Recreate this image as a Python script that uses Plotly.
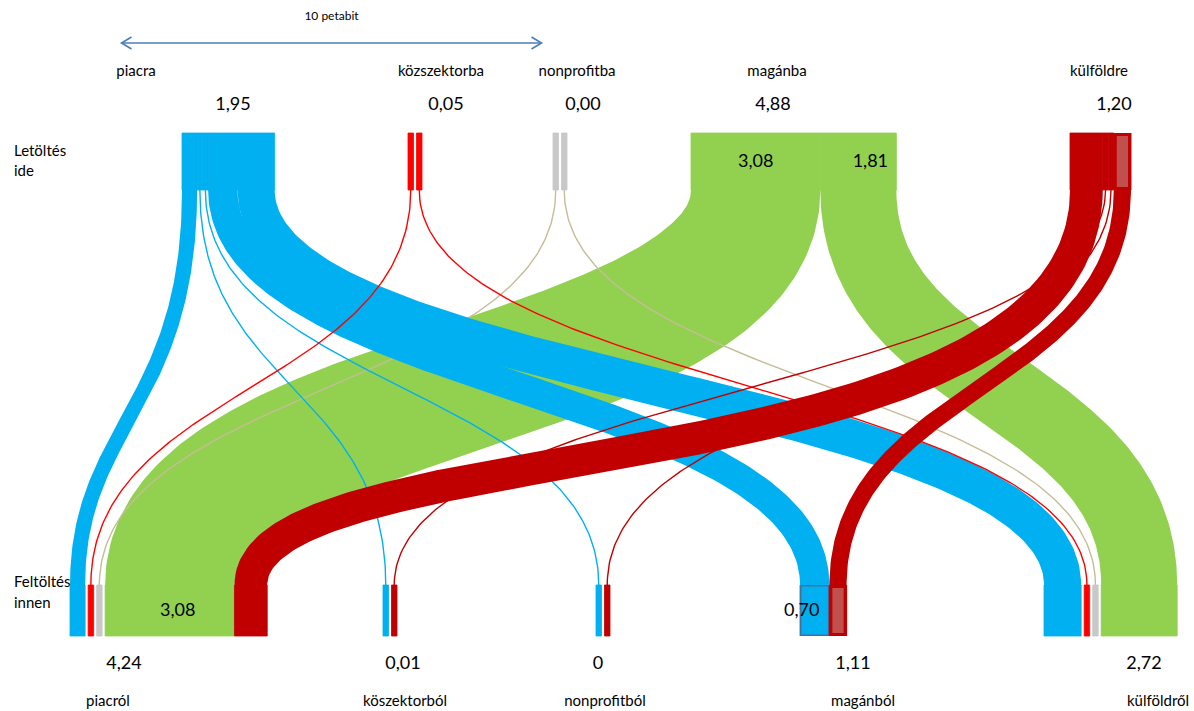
import numpy as np
import plotly.graph_objects as go

# ---------------------------------------------------------------- data
TOP_NODES = ["piacra", "közszektorba", "nonprofitba", "magánba", "külföldre"]
TOP_TOTALS = ["1,95", "0,05", "0,00", "4,88", "1,20"]
BOTTOM_NODES = ["piacról", "köszektorból", "nonprofitból", "magánból", "külföldről"]
BOTTOM_TOTALS = ["4,24", "0,01", "0", "1,11", "2,72"]

# traffic in petabit: downloaded into (top) <- uploaded from (bottom)
FLOW_TO = ["piacra", "piacra", "piacra", "piacra", "piacra",
           "közszektorba", "közszektorba",
           "nonprofitba", "nonprofitba",
           "magánba", "magánba",
           "külföldre", "külföldre", "külföldre", "külföldre"]
FLOW_FROM = ["piacról", "köszektorból", "nonprofitból", "magánból", "külföldről",
             "piacról", "külföldről",
             "piacról", "külföldről",
             "piacról", "külföldről",
             "piacról", "köszektorból", "nonprofitból", "magánból"]
FLOW_VALUE = [0.36, 0.005, 0.002, 0.70, 0.885,
              0.02, 0.03,
              0.001, 0.001,
              3.08, 1.81,
              0.78, 0.005, 0.002, 0.41]

SCALE_BAR = 10  # petabit

# ---------------------------------------------------------------- layout / style
PX_PER_PB = 42.0
W, H = 1194, 711
TOP_LEFT = [182, 408, 553, 691, 1070]
BOTTOM_LEFT = [70, 383, 596, 800, 1044]
TOP_STUB = (133, 190)
BOTTOM_STUB = (585, 636)
TINY = 0.1
STUB_MIN = 5.5
GAP = 3
FONT = "Lato"

LINK_COLOR = {"piacra": "#00B0F0", "közszektorba": "#FF0000", "nonprofitba": "#C4BD97",
              "magánba": "#92D050", "külföldre": "#C00000"}
STUB_COLOR = {"piacra": "#00B0F0", "közszektorba": "#FF0000", "nonprofitba": "#C8C8C8",
              "magánba": "#92D050", "külföldre": "#C00000"}
DRAW_ORDER = ["magánba", "nonprofitba", "piacra", "közszektorba", "külföldre"]

# control-point depth (top, bottom) as a share of the vertical span
BEND = {("külföldre", "piacról"): (0.78, 0.40),
        ("piacra", "piacról"): (0.55, 0.40)}
# outlined stubs: (flow, end) -> (fill, border colour, border width)
OUTLINED = {
    (("piacra", "magánból"), "bottom"): ("#00B0F0", "#41719C", 1.5),
    (("külföldre", "magánból"), "bottom"): ("#C0504D", "#C00000", 3),
    (("külföldre", "magánból"), "top"): ("#C0504D", "#C00000", 3),
}
# stub labels: (flow, end) -> horizontal shift of the label from stub centre
STUB_LABELS = {
    (("magánba", "piacról"), "top"): 0,
    (("magánba", "külföldről"), "top"): 12,
    (("magánba", "piacról"), "bottom"): 8,
    (("piacra", "magánból"), "bottom"): -13,
}

flows = list(zip(FLOW_TO, FLOW_FROM, FLOW_VALUE))


def width_of(v):
    return v * PX_PER_PB


def place(node_names, lefts, own_idx, other_idx, other_nodes):
    """Lay the stubs of every node side by side.  Tiny flows get a minimum
    width; a gap separates them from stubs of another colour, and from each
    other when the whole node is made of tiny flows."""
    slots = {}
    for n, left in zip(node_names, lefts):
        mine = [f for f in flows if f[own_idx] == n]
        mine.sort(key=lambda f: other_nodes.index(f[other_idx]))
        all_tiny = all(f[2] < TINY for f in mine)
        x = left
        prev = None
        for f in mine:
            tiny = f[2] < TINY
            if prev is not None:
                either_tiny = tiny or prev[2] < TINY
                other_colour = STUB_COLOR[f[0]] != STUB_COLOR[prev[0]]
                if (either_tiny and other_colour) or all_tiny:
                    x += GAP
            w = STUB_MIN if tiny else width_of(f[2])
            slots[(f[0], f[1])] = (x, x + w)
            x += w
            prev = f
    return slots


top_slots = place(TOP_NODES, TOP_LEFT, 0, 1, BOTTOM_NODES)
bottom_slots = place(BOTTOM_NODES, BOTTOM_LEFT, 1, 0, TOP_NODES)


def curve(key, n=160):
    xt = sum(top_slots[key]) / 2
    xb = sum(bottom_slots[key]) / 2
    yt, yb = TOP_STUB[1], BOTTOM_STUB[0]
    k1, k2 = BEND.get(key, (0.5, 0.5))
    span = yb - yt
    p = np.array([[xt, yt], [xt, yt + k1 * span], [xb, yb - k2 * span], [xb, yb]], float)
    t = np.linspace(0, 1, n)[:, None]
    pts = ((1 - t) ** 3) * p[0] + 3 * ((1 - t) ** 2) * t * p[1] + 3 * (1 - t) * t ** 2 * p[2] + t ** 3 * p[3]
    d = 3 * ((1 - t) ** 2) * (p[1] - p[0]) + 6 * (1 - t) * t * (p[2] - p[1]) + 3 * t ** 2 * (p[3] - p[2])
    return pts, d


fig = go.Figure()

# side captions sit behind the bars
fig.add_trace(go.Scatter(
    x=[14, 14, 14, 14], y=[152, 172, 583, 604],
    text=["Letöltés", "ide", "Feltöltés", "innen"],
    mode="text", textposition="middle right",
    textfont=dict(family=FONT, size=15, color="#000000"), hoverinfo="skip"))

# links
for src in DRAW_ORDER:
    for f in flows:
        if f[0] != src:
            continue
        key = (f[0], f[1])
        pts, d = curve(key)
        col = LINK_COLOR[f[0]]
        if f[2] < TINY:
            fig.add_trace(go.Scatter(x=pts[:, 0], y=pts[:, 1], mode="lines",
                                     line=dict(color=col, width=1.4), hoverinfo="skip"))
            continue
        w = width_of(f[2])
        nrm = np.stack([-d[:, 1], d[:, 0]], axis=1)
        nrm /= np.linalg.norm(nrm, axis=1)[:, None]
        a = pts + nrm * w / 2
        b = pts - nrm * w / 2
        poly = np.vstack([a, b[::-1], a[:1]])
        fig.add_trace(go.Scatter(x=poly[:, 0], y=poly[:, 1], mode="lines", fill="toself",
                                 fillcolor=col, line=dict(width=0, color=col), hoverinfo="skip"))


def rect(x0, x1, y0, y1, fill, border=None, bw=0):
    fig.add_trace(go.Scatter(x=[x0, x1, x1, x0, x0], y=[y0, y0, y1, y1, y0],
                             mode="lines", fill="toself", fillcolor=fill,
                             line=dict(width=bw, color=border or fill), hoverinfo="skip"))


# stubs at both ends (a hairline of the same colour hides seams between neighbours)
for f in flows:
    key = (f[0], f[1])
    for end, slots, ys in (("top", top_slots, TOP_STUB), ("bottom", bottom_slots, BOTTOM_STUB)):
        x0, x1 = slots[key]
        style = OUTLINED.get((key, end))
        if style:
            fill, border, bw = style
            inset = bw / 2
            rect(x0 - 0.5, x1 + 0.5, ys[0], ys[1], STUB_COLOR[f[0]])
            rect(x0 + inset, x1 - inset, ys[0] + inset, ys[1] - inset, fill, border, bw)
        else:
            rect(x0, x1, ys[0], ys[1], STUB_COLOR[f[0]], bw=0.8)

# stub value labels
lookup = {(a, b): v for a, b, v in flows}
lx, ly, lt = [], [], []
for (key, end), shift in STUB_LABELS.items():
    slots = top_slots if end == "top" else bottom_slots
    ys = TOP_STUB if end == "top" else BOTTOM_STUB
    lx.append(sum(slots[key]) / 2 + shift)
    ly.append((ys[0] + ys[1]) / 2 + 1)
    lt.append(f"{lookup[key]:.2f}".replace(".", ","))
fig.add_trace(go.Scatter(x=lx, y=ly, text=lt, mode="text",
                         textfont=dict(family=FONT, size=18, color="#000000"), hoverinfo="skip"))

# node captions and totals
TOP_LABEL_X = [136, 441, 577, 777, 1099]
TOP_VALUE_X = [233, 446, 583, 773, 1114]
BOTTOM_VALUE_X = [124, 403, 598, 853, 1144]
BOTTOM_LABEL_X = [108, 405, 605, 863, 1158]
fig.add_trace(go.Scatter(x=TOP_LABEL_X + BOTTOM_LABEL_X, y=[72] * 5 + [702] * 5,
                         text=TOP_NODES + BOTTOM_NODES, mode="text",
                         textfont=dict(family=FONT, size=15, color="#000000"), hoverinfo="skip"))
fig.add_trace(go.Scatter(x=TOP_VALUE_X + BOTTOM_VALUE_X, y=[105] * 5 + [664] * 5,
                         text=TOP_TOTALS + BOTTOM_TOTALS, mode="text",
                         textfont=dict(family=FONT, size=18, color="#000000"), hoverinfo="skip"))

# scale bar
cx, ay = 331.5, 43
half = SCALE_BAR * PX_PER_PB / 2
xa, xb = cx - half, cx + half
ax = [xa, xb, None, xa + 10, xa, xa + 10, None, xb - 10, xb, xb - 10]
ayy = [ay, ay, None, ay - 6, ay, ay + 6, None, ay - 6, ay, ay + 6]
fig.add_trace(go.Scatter(x=ax, y=ayy, mode="lines", line=dict(color="#4A7EBB", width=1.6),
                         hoverinfo="skip"))
fig.add_trace(go.Scatter(x=[cx], y=[17], text=[f"{SCALE_BAR} petabit"], mode="text",
                         textfont=dict(family=FONT, size=12, color="#000000"), hoverinfo="skip"))

fig.update_layout(
    width=W, height=H, margin=dict(l=0, r=0, t=0, b=0),
    paper_bgcolor="white", plot_bgcolor="white", showlegend=False,
    xaxis=dict(range=[0, W], visible=False, fixedrange=True),
    yaxis=dict(range=[H, 0], visible=False, fixedrange=True),
)
fig.write_html("out.html")
